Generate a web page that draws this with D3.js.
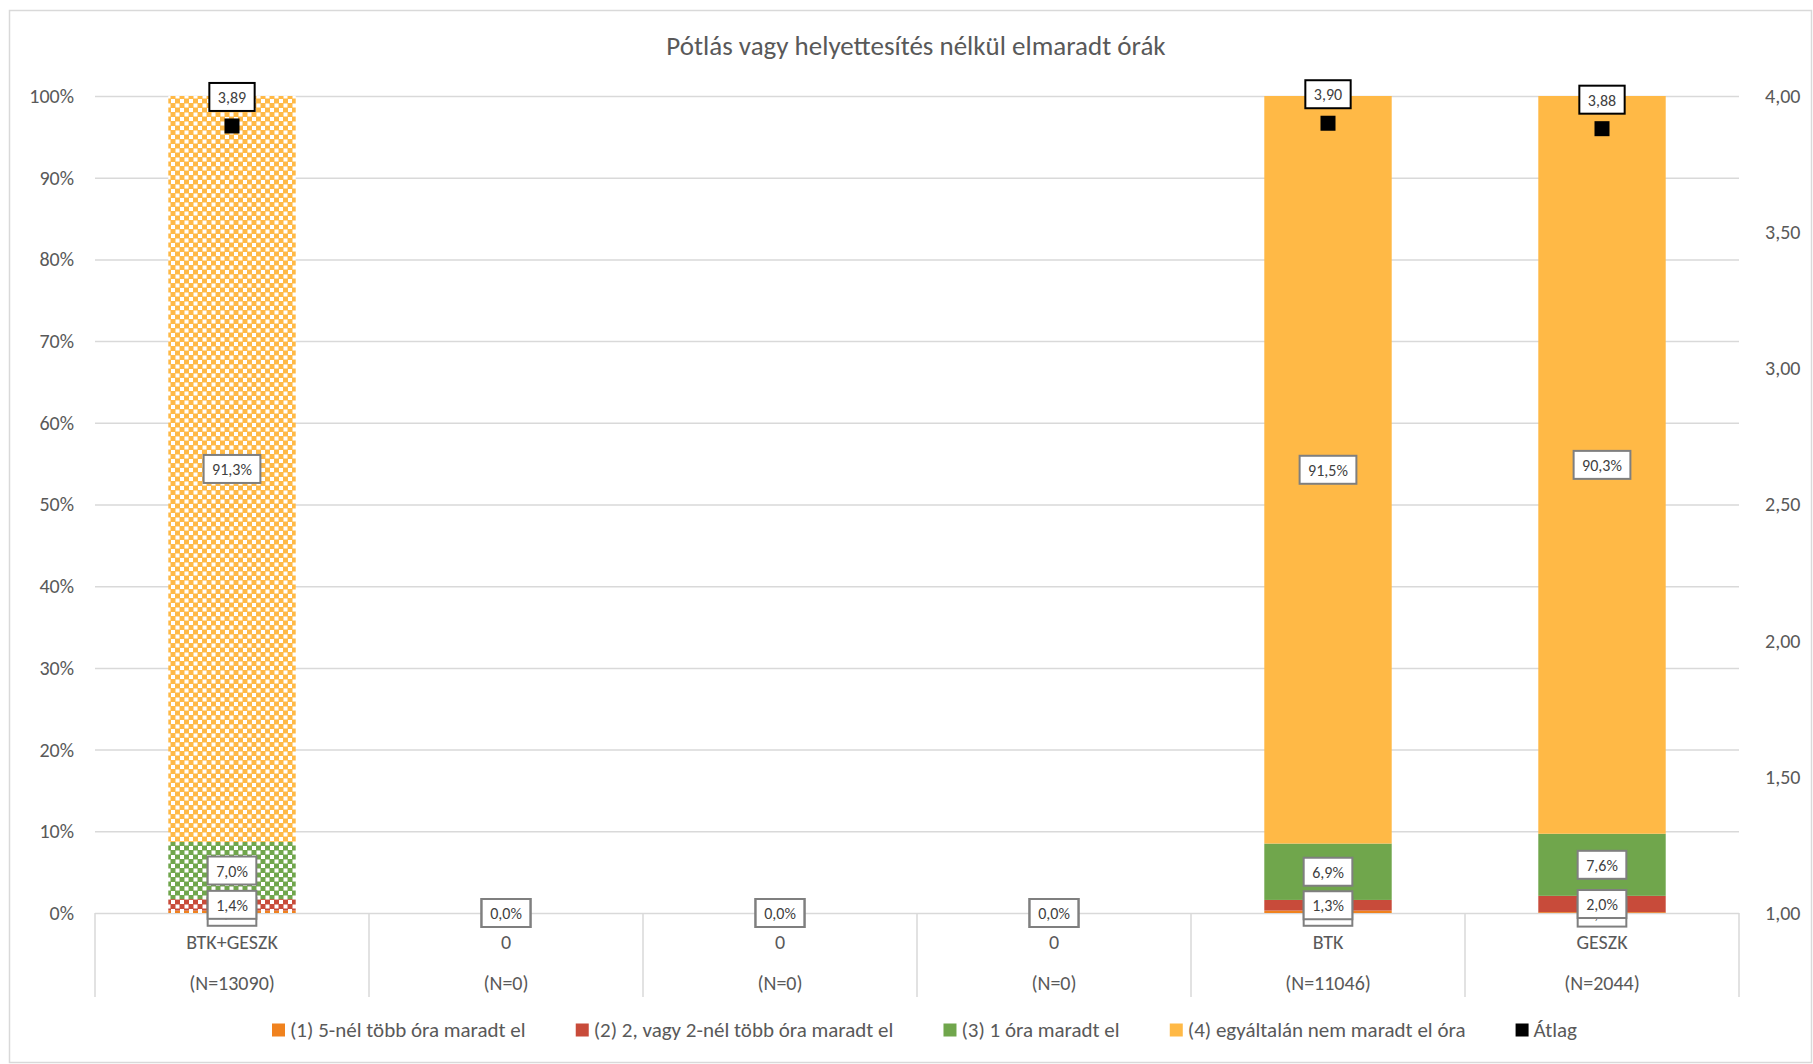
<!DOCTYPE html>
<html>
<head>
<meta charset="utf-8">
<script src="https://cdn.jsdelivr.net/npm/d3@7"></script>
<style>
body { margin: 0; background: #fff; }
svg { display: block; font-family: Carlito, Lato, "Liberation Sans", sans-serif; }
</style>
</head>
<body>
<svg id="chart" width="1813" height="1064"></svg>
<script>
// chart data
var title = "Pótlás vagy helyettesítés nélkül elmaradt órák";
var categories = ["BTK+GESZK", "0", "0", "0", "BTK", "GESZK"];
var nLabels = ["(N=13090)", "(N=0)", "(N=0)", "(N=0)", "(N=11046)", "(N=2044)"];
var seriesNames = ["(1) 5-nél több óra maradt el", "(2) 2, vagy 2-nél több óra maradt el", "(3) 1 óra maradt el", "(4) egyáltalán nem maradt el óra"];
var s1 = [0.3, 0, 0, 0, 0.3, 0.1];
var s2 = [1.4, 0, 0, 0, 1.3, 2.0];
var s3 = [7.0, 0, 0, 0, 6.9, 7.6];
var s4 = [91.3, 0, 0, 0, 91.5, 90.3];
var atlag = [3.89, null, null, null, 3.90, 3.88];
var atlagName = "Átlag";
var leftTicks = [0, 10, 20, 30, 40, 50, 60, 70, 80, 90, 100];
var rightTicks = [1, 1.5, 2, 2.5, 3, 3.5, 4];
var colors = ["#F0821E", "#C84B3A", "#70A64C", "#FFB946"];
var patterned = [true, false, false, false, false, false];

var svg = d3.select("#chart");
var W = 1813, H = 1064;
var plotL = 95, plotR = 1739, plotT = 96, plotB = 913;
var gridColor = "#d9d9d9";
var textColor = "#595959";
var fs = 20; // axis font size

var fmt = function(v, d) { return v.toFixed(d).replace(".", ","); };

// outer frame
svg.append("rect").attr("x", 0).attr("y", 0).attr("width", W).attr("height", H).attr("fill", "#fff");
svg.append("rect").attr("x", 9.5).attr("y", 10.5).attr("width", W - 11).attr("height", H - 12)
	.attr("fill", "none").attr("stroke", "#d9d9d9").attr("stroke-width", 1.5);

// checker patterns for the first column
var defs = svg.append("defs");
colors.forEach(function(c, i) {
	var p = defs.append("pattern").attr("id", "chk" + i)
		.attr("patternUnits", "userSpaceOnUse").attr("width", 9).attr("height", 9);
	p.append("rect").attr("width", 9).attr("height", 9).attr("fill", c);
	p.append("rect").attr("x", 0).attr("y", 0).attr("width", 4).attr("height", 4).attr("fill", "#fff");
	p.append("rect").attr("x", 4.5).attr("y", 4.5).attr("width", 4).attr("height", 4).attr("fill", "#fff");
});

var idx = d3.range(categories.length);
var x = d3.scaleBand().domain(idx).range([plotL, plotR]).padding(0);
var y = d3.scaleLinear().domain([0, 100]).range([plotB, plotT]);
var y2 = d3.scaleLinear().domain([1, 4]).range([plotB, plotT]);
var barW = x.bandwidth() * 0.465;

// title
svg.append("text").attr("x", 916).attr("y", 55).attr("text-anchor", "middle")
	.attr("fill", textColor).style("font-size", "27px").text(title);

// gridlines + left axis
var leftAxis = d3.axisLeft(y).tickValues(leftTicks).tickSize(-(plotR - plotL)).tickPadding(21)
	.tickFormat(function(d) { return d + "%"; });
var gl = svg.append("g").attr("transform", "translate(" + plotL + ",0)").call(leftAxis);
gl.select(".domain").remove();
gl.selectAll(".tick line").attr("stroke", gridColor).attr("stroke-width", 1.5);
gl.selectAll(".tick text").attr("fill", textColor).style("font-size", fs + "px");
gl.attr("font-family", null).attr("font-size", null);

// right axis
var rightAxis = d3.axisRight(y2).tickValues(rightTicks).tickSize(0).tickPadding(26)
	.tickFormat(function(d) { return fmt(d, 2); });
var gr = svg.append("g").attr("transform", "translate(" + plotR + ",0)").call(rightAxis);
gr.select(".domain").remove();
gr.selectAll(".tick text").attr("fill", textColor).style("font-size", fs + "px");
gr.attr("font-family", null).attr("font-size", null);

// category separators below the axis
var seps = d3.range(categories.length + 1);
svg.selectAll("line.sep").data(seps).enter().append("line").attr("class", "sep")
	.attr("x1", function(d) { return plotL + d * x.step(); })
	.attr("x2", function(d) { return plotL + d * x.step(); })
	.attr("y1", plotB).attr("y2", 997)
	.attr("stroke", gridColor).attr("stroke-width", 1.5);

svg.selectAll("text.cat").data(idx).enter().append("text").attr("class", "cat")
	.attr("x", function(i) { return x(i) + x.bandwidth() / 2; }).attr("y", 949)
	.attr("text-anchor", "middle").attr("fill", textColor).style("font-size", fs + "px")
	.text(function(i) { return categories[i]; });
svg.selectAll("text.nlab").data(idx).enter().append("text").attr("class", "nlab")
	.attr("x", function(i) { return x(i) + x.bandwidth() / 2; }).attr("y", 990)
	.attr("text-anchor", "middle").attr("fill", textColor).style("font-size", fs + "px")
	.text(function(i) { return nLabels[i]; });

// stacked bars
var series = [s1, s2, s3, s4];
var rows = idx.map(function(i) {
	var r = {i: i};
	series.forEach(function(s, k) { r["k" + k] = s[i]; });
	return r;
});
var stack = d3.stack().keys(["k0", "k1", "k2", "k3"])(rows);

var barG = svg.append("g");
stack.forEach(function(layer, k) {
	barG.selectAll("rect.s" + k).data(layer).enter().append("rect").attr("class", "s" + k)
		.attr("x", function(d) { return x(d.data.i) + (x.bandwidth() - barW) / 2; })
		.attr("width", barW)
		.attr("y", function(d) { return y(d[1]); })
		.attr("height", function(d) { return y(d[0]) - y(d[1]); })
		.attr("fill", function(d) { return patterned[d.data.i] ? "url(#chk" + k + ")" : colors[k]; });
});

// a data label: white box with border, text in the middle
function label(g, cx, cy, txt, stroke) {
	var t = g.append("text").attr("x", cx).attr("y", cy + 6).attr("text-anchor", "middle")
		.attr("fill", "#404040").style("font-size", "16px").text(txt);
	var w = t.node().getComputedTextLength() + 17;
	g.insert("rect", function() { return t.node(); })
		.attr("x", cx - w / 2).attr("y", cy - 14).attr("width", w).attr("height", 28)
		.attr("fill", "#fff").attr("stroke", stroke).attr("stroke-width", 2);
}

var labG = svg.append("g");
stack.forEach(function(layer, k) {
	layer.forEach(function(d) {
		var cx = x(d.data.i) + x.bandwidth() / 2;
		var cy = (y(d[0]) + y(d[1])) / 2;
		label(labG, cx, cy, fmt(d[1] - d[0], 1) + "%", "#7f7f7f");
	});
});

// average markers
idx.forEach(function(i) {
	if (atlag[i] == null) return;
	var cx = x(i) + x.bandwidth() / 2;
	var cy = y2(atlag[i]);
	labG.append("rect").attr("x", cx - 7.5).attr("y", cy - 7.5).attr("width", 15).attr("height", 15).attr("fill", "#000");
	label(labG, cx, cy - 29, fmt(atlag[i], 2), "#000");
});

// legend, spread between x=272 and x=1577 like the original
var legItems = seriesNames.map(function(n, k) { return {name: n, color: colors[k]}; });
legItems.push({name: atlagName, color: "#000"});
var legG = svg.append("g").attr("transform", "translate(272,1030)");
var groups = [];
var total = 0;
legItems.forEach(function(it) {
	var g = legG.append("g");
	g.append("rect").attr("x", 0).attr("y", -6.5).attr("width", 13).attr("height", 13).attr("fill", it.color);
	var t = g.append("text").attr("x", 18).attr("y", 7).attr("fill", textColor).style("font-size", "21px").text(it.name);
	var w = 18 + t.node().getComputedTextLength();
	groups.push({g: g, w: w});
	total += w;
});
var gap = (1577 - 272 - total) / (legItems.length - 1);
var lx = 0;
groups.forEach(function(o) {
	o.g.attr("transform", "translate(" + lx + ",0)");
	lx += o.w + gap;
});
</script>
</body>
</html>
